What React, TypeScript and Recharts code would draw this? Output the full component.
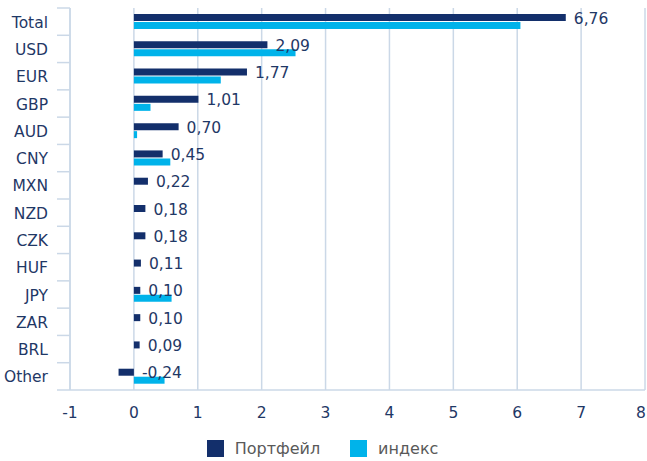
import { Bar, BarChart, CartesianGrid, LabelList, Legend, XAxis, YAxis } from 'recharts'

const categories = ['Total', 'USD', 'EUR', 'GBP', 'AUD', 'CNY', 'MXN', 'NZD', 'CZK', 'HUF', 'JPY', 'ZAR', 'BRL', 'Other']
const portfolio = [6.76, 2.09, 1.77, 1.01, 0.7, 0.45, 0.22, 0.18, 0.18, 0.11, 0.1, 0.1, 0.09, -0.24]
const indexValues = [6.05, 2.53, 1.36, 0.26, 0.05, 0.57, 0, 0, 0, 0, 0.59, 0, 0, 0.48]
const xTicks = [-1, 0, 1, 2, 3, 4, 5, 6, 7, 8]

const data = categories.map((name, i) => ({
  name,
  portfolio: portfolio[i],
  index: indexValues[i],
}))

const NAVY = '#132f6b'
const CYAN = '#00b3ea'
const GRID = '#cbd8e7'
const TEXT = '#1f3866'
const FONT = '"DejaVu Sans", Verdana, sans-serif'
const FS = 15.5

const W = 647
const H = 461
const PLOT_TOP = 8
const PLOT_BOTTOM = 390
const BAND = (PLOT_BOTTOM - PLOT_TOP) / categories.length

function fmt(v: number) {
  return v.toFixed(2).replace('.', ',')
}

// Excel-style: category labels at band centre, tick marks at band edges
function CategoryTick(props: any) {
  const { x, y, payload, index } = props
  const last = index === categories.length - 1
  return (
    <g>
      <line x1={x - 13} x2={x} y1={y - BAND / 2} y2={y - BAND / 2} stroke={GRID} strokeWidth={1.5} />
      {last && (
        <line x1={x - 13} x2={x} y1={y + BAND / 2} y2={y + BAND / 2} stroke={GRID} strokeWidth={1.5} />
      )}
      <text x={x - 22} y={y} dy={6} textAnchor="end" fill={TEXT} fontSize={FS} fontFamily={FONT}>
        {payload.value}
      </text>
    </g>
  )
}

// keep the last label ("8") inside the frame
function ValueTick(props: any) {
  const { x, y, payload } = props
  return (
    <text x={Math.min(x, W - 6)} y={y} dy={12} textAnchor="middle" fill={TEXT} fontSize={FS} fontFamily={FONT}>
      {payload.value}
    </text>
  )
}

function BarValue(props: any) {
  const { x, y, width, height, value } = props
  const end = Math.max(x, x + width)
  return (
    <text x={end + 8} y={y + height / 2} dy={6} fill={TEXT} fontSize={FS} fontFamily={FONT}>
      {fmt(value)}
    </text>
  )
}

function LegendBox() {
  const item = (color: string, label: string) => (
    <div style={{ display: 'flex', alignItems: 'center', gap: 11 }}>
      <div style={{ width: 17, height: 17, background: color }} />
      <span style={{ color: '#595959', fontSize: 16, fontFamily: FONT }}>{label}</span>
    </div>
  )
  return (
    <div
      style={{
        height: 41,
        display: 'flex',
        justifyContent: 'center',
        alignItems: 'flex-end',
        paddingBottom: 3,
        boxSizing: 'border-box',
        gap: 30,
      }}
    >
      {item(NAVY, 'Портфейл')}
      {item(CYAN, 'индекс')}
    </div>
  )
}

export default function App() {
  return (
    <div style={{ position: 'absolute', left: 0, top: 0, width: W, height: H, background: '#fff', fontFamily: FONT }}>
      <BarChart
        width={W}
        height={H}
        data={data}
        layout="vertical"
        margin={{ top: PLOT_TOP, right: 2, left: 0, bottom: 0 }}
        barSize={7}
        barGap={1}
      >
        <CartesianGrid horizontal={false} stroke={GRID} strokeWidth={1.5} />
        <XAxis
          type="number"
          domain={[-1, 8]}
          ticks={xTicks}
          interval={0}
          height={30}
          tickLine={false}
          axisLine={{ stroke: GRID, strokeWidth: 1.5 }}
          tick={<ValueTick />}
          tickMargin={10}
        />
        <YAxis
          type="category"
          dataKey="name"
          width={70}
          interval={0}
          tickLine={false}
          tickSize={0}
          tickMargin={0}
          axisLine={{ stroke: GRID, strokeWidth: 1.5 }}
          tick={<CategoryTick />}
        />
        <Legend verticalAlign="bottom" content={() => <LegendBox />} />
        <Bar dataKey="portfolio" name="Портфейл" fill={NAVY} isAnimationActive={false}>
          <LabelList dataKey="portfolio" content={<BarValue />} />
        </Bar>
        <Bar dataKey="index" name="индекс" fill={CYAN} isAnimationActive={false} />
      </BarChart>
    </div>
  )
}
